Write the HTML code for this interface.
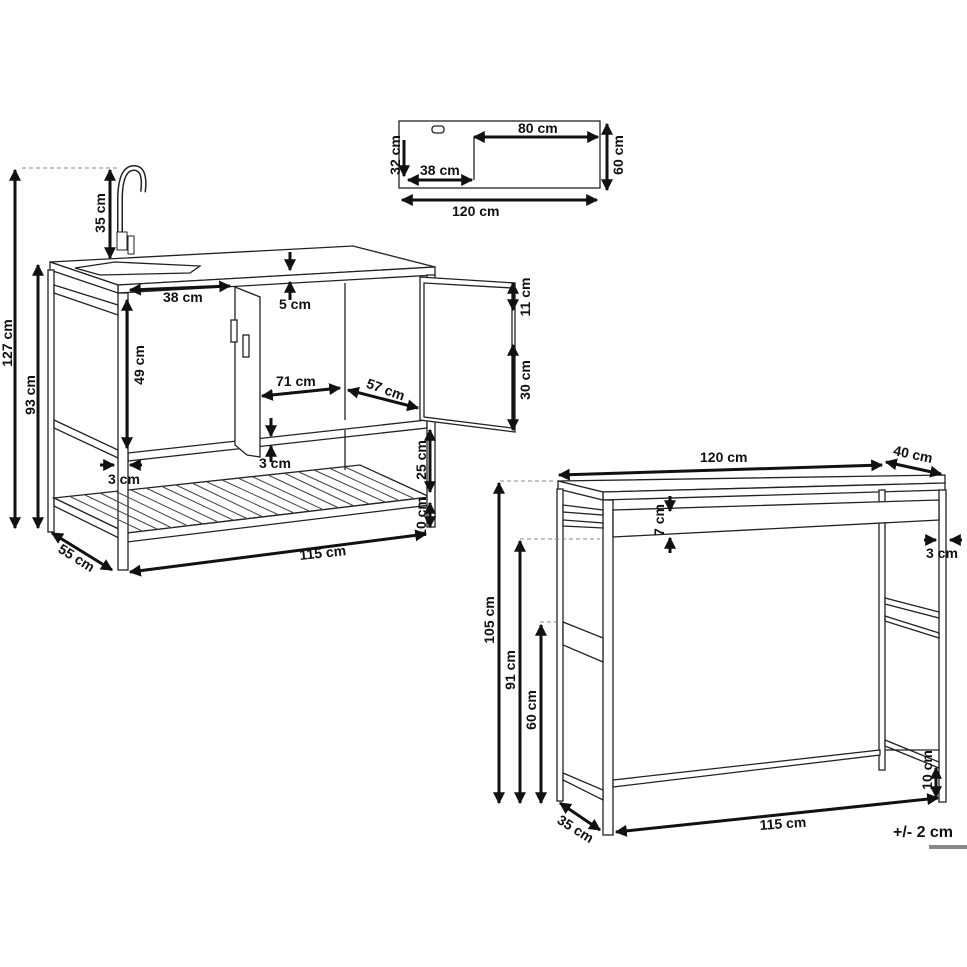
<!DOCTYPE html>
<html><head><meta charset="utf-8"><style>
html,body{margin:0;padding:0;background:#fff}
svg{display:block}
text{font-family:"Liberation Sans",sans-serif;font-weight:bold;font-size:14px;fill:#111}
</style></head><body>
<svg width="967" height="967" viewBox="0 0 967 967" xmlns="http://www.w3.org/2000/svg">
<defs>
<marker id="a" viewBox="0 0 10 10" refX="9" refY="5" markerWidth="4" markerHeight="4" orient="auto-start-reverse"><path d="M0,0L10,5L0,10z" fill="#111"/></marker>
</defs>
<g fill="none" stroke="#222" stroke-width="1.3">
<rect x="399" y="121" width="201" height="67"/>
<rect x="432" y="126" width="12" height="7" rx="3"/>
</g>
<g stroke="#111" stroke-width="3" fill="none" marker-start="url(#a)" marker-end="url(#a)">
<line x1="474" y1="137" x2="598" y2="137"/>
<line x1="408" y1="180" x2="472" y2="180"/>
<line x1="402" y1="200" x2="597" y2="200"/>
<line x1="607" y1="124" x2="607" y2="190"/>
</g>
<path d="M474,137 V180" stroke="#111" stroke-width="1.2" fill="none"/>
<line x1="404" y1="140" x2="404" y2="176" stroke="#111" stroke-width="3" marker-end="url(#a)"/>
<text x="518" y="133">80 cm</text>
<text x="420" y="175">38 cm</text>
<text x="452" y="216">120 cm</text>
<text transform="translate(623,155) rotate(-90)" text-anchor="middle">60 cm</text>
<text transform="translate(400,155) rotate(-90)" text-anchor="middle">32 cm</text>

<!-- LEFT CABINET -->
<g fill="#fff" stroke="#222" stroke-width="1.3">
<polygon points="50,262 353,246 435,267 118,285"/>
<polygon points="118,285 435,267 435,275 118,293"/>
<polygon points="50,262 118,285 118,293 50,270"/>
<polygon points="75,268 115,262 200,266 190,273 100,275"/>
<rect x="48" y="270" width="6" height="262"/>
<polygon points="54,285 118,305 118,315 54,293"/>
<polygon points="54,420 118,450 118,458 54,428"/>
<polygon points="128,453 427,420 427,428 128,461"/>
<polygon points="54,498 360,465 430,497 127,533"/>
<polygon points="127,533 430,497 430,505 127,542"/>
<polygon points="54,498 127,533 127,542 54,506"/>
<rect x="118" y="293" width="10" height="277"/>
<rect x="427" y="275" width="8" height="252"/>
<polygon points="235,287 260,297 260,457 247,455 235,445"/>
<polygon points="420,277 515,283 515,432 420,420"/>
<polygon points="424,283 512,288 512,428 424,417"/>
<line x1="345" y1="283" x2="345" y2="420"/>
<line x1="345" y1="430" x2="345" y2="470"/>
<rect x="231" y="320" width="6" height="22"/>
<rect x="243" y="335" width="6" height="22"/>
</g>
<g stroke="#444" stroke-width="1">
<path d="M142,531L69,496M157,529L85,495M172,528L100,493M188,526L115,491M203,524L131,490M218,522L146,488M233,520L161,486M248,519L176,485M263,517L192,483M279,515L207,482M294,513L222,480M309,511L238,478M324,510L253,477M339,508L268,475M354,506L284,473M369,504L299,472M385,502L314,470M400,501L329,468M415,499L345,467"/>
</g>
<!-- faucet -->
<path d="M120,248 V200 Q120,168 134,168 Q146,168 143,192" stroke="#222" stroke-width="6" fill="none"/>
<path d="M120,248 V200 Q120,168 134,168 Q146,168 143,192" stroke="#fff" stroke-width="3" fill="none"/>
<rect x="117" y="232" width="10" height="18" fill="#fff" stroke="#222"/>
<rect x="128" y="236" width="6" height="18" fill="#fff" stroke="#222"/>
<line x1="22" y1="168" x2="118" y2="168" stroke="#888" stroke-dasharray="4,3"/>
<g stroke="#111" stroke-width="3" fill="none" marker-start="url(#a)" marker-end="url(#a)">
<line x1="15" y1="170" x2="15" y2="528"/>
<line x1="38" y1="265" x2="38" y2="528"/>
<line x1="110" y1="170" x2="110" y2="258"/>
<line x1="130" y1="290" x2="230" y2="286"/>
<line x1="127" y1="300" x2="127" y2="448"/>
<line x1="262" y1="396" x2="340" y2="388"/>
<line x1="348" y1="390" x2="418" y2="408"/>
<line x1="430" y1="430" x2="430" y2="492"/>
<line x1="430" y1="503" x2="430" y2="527"/>
<line x1="52" y1="533" x2="112" y2="570"/>
<line x1="130" y1="572" x2="426" y2="534"/>
<line x1="513" y1="283" x2="513" y2="310"/>
<line x1="513" y1="345" x2="513" y2="430"/>
</g>
<g stroke="#111" stroke-width="3" marker-end="url(#a)">
<line x1="290" y1="252" x2="290" y2="270"/>
<line x1="290" y1="300" x2="290" y2="282"/>
<line x1="271" y1="418" x2="271" y2="436"/>
<line x1="271" y1="462" x2="271" y2="446"/>
<line x1="100" y1="465" x2="114" y2="465"/>
<line x1="142" y1="465" x2="130" y2="465"/>
</g>
<text transform="translate(12,343) rotate(-90)" text-anchor="middle">127 cm</text>
<text transform="translate(35,395) rotate(-90)" text-anchor="middle">93 cm</text>
<text transform="translate(105,213) rotate(-90)" text-anchor="middle">35 cm</text>
<text x="163" y="302">38 cm</text>
<text x="279" y="309">5 cm</text>
<text transform="translate(144,365) rotate(-90)" text-anchor="middle">49 cm</text>
<text x="276" y="386">71 cm</text>
<text transform="translate(384,394) rotate(20)" text-anchor="middle">57 cm</text>
<text x="259" y="468">3 cm</text>
<text x="108" y="484">3 cm</text>
<text transform="translate(426,460) rotate(-90)" text-anchor="middle">25 cm</text>
<text transform="translate(426,517) rotate(-90)" text-anchor="middle">10 cm</text>
<text transform="translate(74,562) rotate(32)" text-anchor="middle">55 cm</text>
<text transform="translate(300,560) rotate(-6)">115 cm</text>
<text transform="translate(530,297) rotate(-90)" text-anchor="middle">11 cm</text>
<text transform="translate(530,380) rotate(-90)" text-anchor="middle">30 cm</text>

<!-- RIGHT TABLE -->
<g fill="#fff" stroke="#222" stroke-width="1.3">
<polygon points="558,481 945,475 945,483 603,492"/>
<polygon points="603,492 945,483 945,490 603,500"/>
<polygon points="558,481 603,492 603,500 558,489"/>
<rect x="557" y="489" width="6" height="312"/>
<rect x="879" y="490" width="6" height="280"/>
<rect x="603" y="500" width="10" height="335"/>
<rect x="939" y="490" width="7" height="312"/>
<polygon points="613,510 939,500 939,520 613,537"/>
<polygon points="563,505 603,510 603,515 563,512"/>
<polygon points="563,520 603,523 603,528 563,526"/>
<polygon points="563,622 603,638 603,662 563,645"/>
<polygon points="885,598 939,612 939,618 885,604"/>
<polygon points="885,616 939,633 939,638 885,621"/>
<polygon points="613,780 880,750 880,755 613,787"/>
<polygon points="563,773 603,790 603,800 563,780"/>
<polygon points="885,740 939,762 939,768 885,746"/>
<line x1="885" y1="750" x2="939" y2="750"/>
</g>
<g stroke="#888" stroke-dasharray="4,3">
<line x1="500" y1="481" x2="556" y2="481"/>
<line x1="520" y1="539" x2="600" y2="539"/>
<line x1="540" y1="622" x2="556" y2="622"/>
</g>
<g stroke="#111" stroke-width="3" fill="none" marker-start="url(#a)" marker-end="url(#a)">
<line x1="559" y1="475" x2="882" y2="465"/>
<line x1="886" y1="462" x2="941" y2="474"/>
<line x1="499" y1="483" x2="499" y2="803"/>
<line x1="520" y1="541" x2="520" y2="803"/>
<line x1="541" y1="625" x2="541" y2="803"/>
<line x1="560" y1="803" x2="600" y2="830"/>
<line x1="616" y1="832" x2="938" y2="798"/>
<line x1="936" y1="768" x2="936" y2="797"/>
</g>
<g stroke="#111" stroke-width="3" marker-end="url(#a)">
<line x1="670" y1="496" x2="670" y2="511"/>
<line x1="670" y1="553" x2="670" y2="538"/>
<line x1="924" y1="540" x2="936" y2="540"/>
<line x1="962" y1="540" x2="950" y2="540"/>
</g>
<text x="700" y="462">120 cm</text>
<text transform="translate(912,459) rotate(12)" text-anchor="middle">40 cm</text>
<text transform="translate(664,520) rotate(-90)" text-anchor="middle">7 cm</text>
<text x="926" y="558">3 cm</text>
<text transform="translate(494,620) rotate(-90)" text-anchor="middle">105 cm</text>
<text transform="translate(515,670) rotate(-90)" text-anchor="middle">91 cm</text>
<text transform="translate(536,710) rotate(-90)" text-anchor="middle">60 cm</text>
<text transform="translate(573,833) rotate(32)" text-anchor="middle">35 cm</text>
<text transform="translate(760,830) rotate(-4)">115 cm</text>
<text transform="translate(932,770) rotate(-90)" text-anchor="middle">10 cm</text>
<text x="893" y="837" style="font-size:16px">+/- 2 cm</text>
<rect x="929" y="845" width="38" height="4" fill="#888"/>
</svg>
</body></html>
